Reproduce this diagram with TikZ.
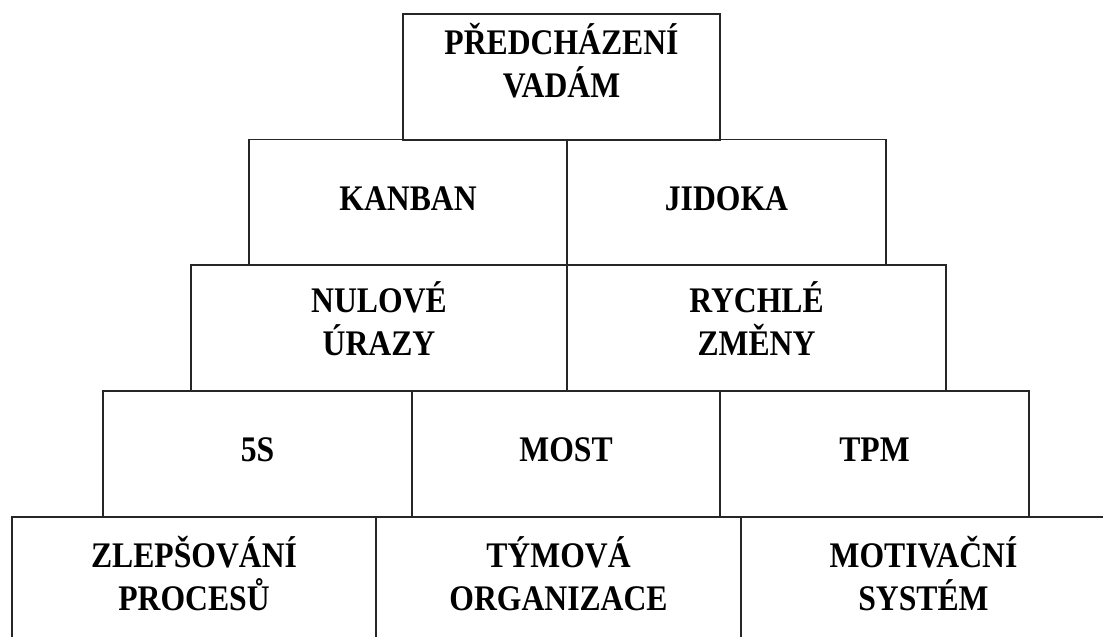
\documentclass[tikz,border=0pt]{standalone}
\usepackage{fontspec}
\newfontfamily\boxfont{Liberation Serif}[FakeStretch=0.88]
\begin{document}
\begin{tikzpicture}[x=1pt,y=-1pt,
  cell/.style={draw=black!85, line width=1.3pt, rectangle, inner sep=0pt,
    minimum width=#1, minimum height=126},
  lbl/.style={inner sep=0pt, align=center, text=black, yshift=#1,
    font=\boxfont\bfseries\fontsize{36}{43}\selectfont},
  lbl/.default=4pt]
\clip (0,0) rectangle (1103,637);
\fill[white] (0,0) rectangle (1103,637);
% bottom row
\node[cell=364] (zlep) at (194,580)   {};
\node[cell=365] (tym)  at (558.5,580) {};
\node[cell=365] (mot)  at (923.5,580) {};
\node[lbl=6.5pt] (zlepT) at (zlep) {ZLEPŠOVÁNÍ\\PROCESŮ};
\node[lbl=6.5pt] (tymT)  at (tym)  {TÝMOVÁ\\ORGANIZACE};
\node[lbl=6.5pt] (motT)  at (mot)  {MOTIVAČNÍ\\SYSTÉM};
% fourth row
\node[cell=309] (fives) at (257.5,454) {};
\node[cell=308] (most)  at (566,454)   {};
\node[cell=309] (tpm)   at (874.5,454) {};
\node[lbl] (fivesT) at (fives) {5S};
\node[lbl] (mostT)  at (most)  {MOST};
\node[lbl] (tpmT)   at (tpm)   {TPM};
% third row
\node[cell=376] (nul) at (379,328)   {};
\node[cell=379] (ryc) at (756.5,328) {};
\node[lbl=9.5pt] (nulT) at (nul) {NULOVÉ\\ÚRAZY};
\node[lbl=9.5pt] (rycT) at (ryc) {RYCHLÉ\\ZMĚNY};
% second row
\node[cell=318] (kan) at (408,202.5)   {};
\node[cell=319] (jid) at (726.5,202.5) {};
\node[lbl] (kanT) at (kan) {KANBAN};
\node[lbl] (jidT) at (jid) {JIDOKA};
% top
\node[cell=317] (pred) at (561.5,77) {};
\node[lbl=16.5pt] (predT) at (pred) {PŘEDCHÁZENÍ\\VADÁM};
\end{tikzpicture}
\end{document}
